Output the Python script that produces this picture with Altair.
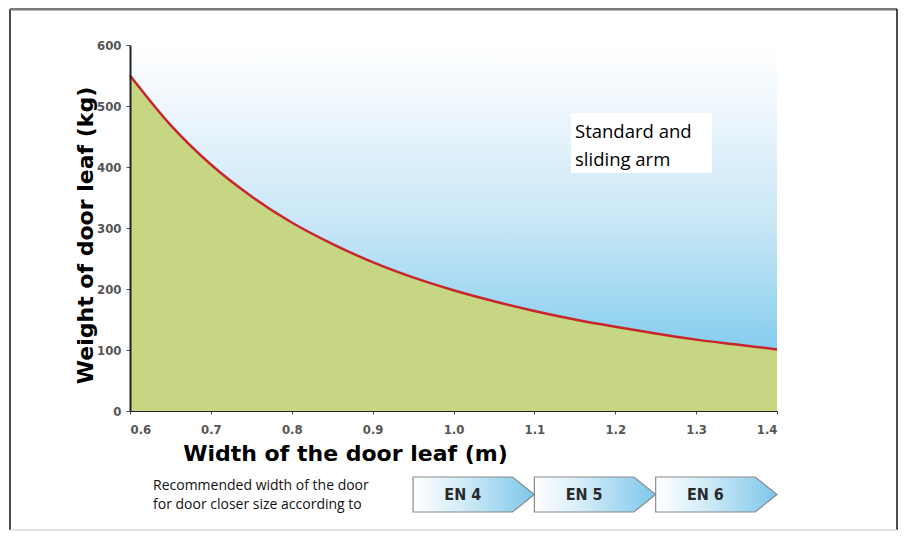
import altair as alt
import pandas as pd

# ---- data ----
widths = [0.60, 0.65, 0.70, 0.75, 0.80, 0.85, 0.90, 0.95, 1.00, 1.05, 1.10,
          1.15, 1.20, 1.25, 1.30, 1.35, 1.40]
weights = [550, 469, 404, 352, 309, 274, 244, 219, 198, 180, 164,
           150, 138, 127, 117, 109, 101]
x_ticks = [0.6, 0.7, 0.8, 0.9, 1.0, 1.1, 1.2, 1.3, 1.4]
y_ticks = [0, 100, 200, 300, 400, 500, 600]
en_labels = ["EN 4", "EN 5", "EN 6"]
en_from = [0.95, 1.10, 1.25]
en_to = [1.10, 1.25, 1.40]

# ---- layout ----
W, H = 647, 366
TIP = 0.027
COND = "DejaVu Sans Condensed, Liberation Sans Narrow, DejaVu Sans"
TITLE_FONT = "DejaVu Sans"
TEXT_FONT = "Open Sans"

curve = pd.DataFrame({"w": widths, "kg": weights})
x_scale = alt.Scale(domain=[widths[0], widths[-1]], nice=False, zero=False)
y_scale = alt.Scale(domain=[y_ticks[0], y_ticks[-1]], nice=False)

x_axis = alt.Axis(
    values=x_ticks, format=".1f", title="Width of the door leaf (m)",
    titleX=215, titleY=42, titleAlign="center", titleBaseline="middle",
    titleFont=TITLE_FONT, titleFontSize=22, titleFontWeight="bold", titleColor="black",
    labelFont=COND, labelFontWeight="bold", labelFontSize=13, labelColor="#555555",
    labelPadding=9, tickSize=3, tickColor="#444444", domainColor="#222222",
    domainWidth=1.2, grid=False, zindex=1,
)
y_axis = alt.Axis(
    values=y_ticks, title="Weight of door leaf (kg)",
    titleAngle=270, titleX=-45, titleY=190, titleAlign="center", titleBaseline="middle",
    titleFont=TITLE_FONT, titleFontSize=22, titleFontWeight="bold", titleColor="black",
    labelFont=COND, labelFontWeight="bold", labelFontSize=13, labelColor="#555555",
    labelPadding=5, tickSize=4, tickColor="#555555", domainColor="#222222",
    domainWidth=2, grid=False, zindex=1,
)

sky_df = pd.DataFrame({"x0": [widths[0]], "x1": [widths[-1]],
                       "y0": [y_ticks[0]], "y1": [y_ticks[-1]]})
sky = alt.Chart(sky_df).mark_rect(
    fill=alt.Gradient(
        gradient="linear", x1=0, y1=0, x2=0, y2=1,
        stops=[alt.GradientStop(color="#ffffff", offset=0),
               alt.GradientStop(color="#f1f8fd", offset=0.15),
               alt.GradientStop(color="#c6e6f6", offset=0.5),
               alt.GradientStop(color="#88ceee", offset=0.82),
               alt.GradientStop(color="#70c3eb", offset=1)]),
).encode(
    x=alt.X("x0:Q", scale=x_scale, axis=x_axis), x2="x1:Q",
    y=alt.Y("y0:Q", scale=y_scale, axis=y_axis), y2="y1:Q",
)

green = alt.Chart(curve).mark_area(color="#c6d682", opacity=1,
                                   interpolate="monotone").encode(
    x=alt.X("w:Q", scale=x_scale), y=alt.Y("kg:Q", scale=y_scale)
)
red = alt.Chart(curve).mark_line(color="#c8262b", strokeWidth=2.5,
                                 interpolate="monotone").encode(
    x=alt.X("w:Q", scale=x_scale), y=alt.Y("kg:Q", scale=y_scale)
)

one = alt.Data(values=[{}])

def rule(x, x2, y, y2, color, width):
    return alt.Chart(one).mark_rule(color=color, strokeWidth=width).encode(
        x=alt.value(x), x2=alt.value(x2), y=alt.value(y), y2=alt.value(y2))

frame = [
    rule(-120, -120, -36, 485, "#111111", 1.5),
    rule(-120, 767, -36, -36, "#7a7a7a", 3),
    rule(767, 767, -36, 485, "#111111", 1.5),
    rule(-120, 767, 485, 485, "#d8d8d8", 1.5),
]

box = alt.Chart(one).mark_rect(color="white").encode(
    x=alt.value(441), x2=alt.value(582), y=alt.value(68), y2=alt.value(128))
box_text = alt.Chart(one).mark_text(
    align="left", baseline="middle", font=TEXT_FONT, fontSize=18.5,
    lineHeight=28, color="black",
).encode(x=alt.value(445), y=alt.value(87),
         text=alt.value(["Standard and", "sliding arm"]))

note = alt.Chart(one).mark_text(
    align="left", baseline="middle", font=TEXT_FONT, fontSize=14,
    lineHeight=19, color="#111111",
).encode(x=alt.value(23), y=alt.value(441),
         text=alt.value(["Recommended width of the door",
                         "for door closer size according to"]))

main = alt.layer(sky, green, red, box, box_text, note, *frame)

# ---- EN arrows ----
rows = []
for lab, a, b in zip(en_labels, en_from, en_to):
    rows.append({"lab": lab, "x": a, "top": 1.0, "bot": 0.0})
    rows.append({"lab": lab, "x": b - TIP, "top": 1.0, "bot": 0.0})
    rows.append({"lab": lab, "x": b, "top": 0.5, "bot": 0.5})
arrow_df = pd.DataFrame(rows)
lab_df = pd.DataFrame({"lab": en_labels,
                       "xm": [(a + b - TIP) / 2 for a, b in zip(en_from, en_to)],
                       "ym": [0.5] * len(en_labels)})
ay = alt.Scale(domain=[0, 1], range=[467, 432])

arrows = alt.Chart(arrow_df).mark_area(
    fill=alt.Gradient(
        gradient="linear", x1=0, y1=0, x2=1, y2=0,
        stops=[alt.GradientStop(color="#ffffff", offset=0),
               alt.GradientStop(color="#d3ecf8", offset=0.4),
               alt.GradientStop(color="#7cc6ea", offset=1)]),
    stroke="#8a8a8a", strokeWidth=1.2, opacity=1,
).encode(
    x=alt.X("x:Q", scale=x_scale),
    y=alt.Y("top:Q", scale=ay, axis=None), y2="bot:Q",
    detail="lab:N",
)
arrow_text = alt.Chart(lab_df).mark_text(
    font=COND, fontWeight="bold", fontSize=16, color="#2a2a2a",
    align="center", baseline="middle",
).encode(x=alt.X("xm:Q", scale=x_scale),
         y=alt.Y("ym:Q", scale=ay, axis=None), text="lab:N")

arrow_layer = alt.layer(arrows, arrow_text)

chart = alt.layer(main, arrow_layer).resolve_scale(y="independent").properties(
    width=W, height=H,
    autosize=alt.AutoSizeParams(type="none"),
    padding={"left": 122, "top": 37, "right": 121, "bottom": 120},
    background="white",
).configure_view(stroke=None)

chart.save("out.html", embed_options={"renderer": "svg", "actions": False})
